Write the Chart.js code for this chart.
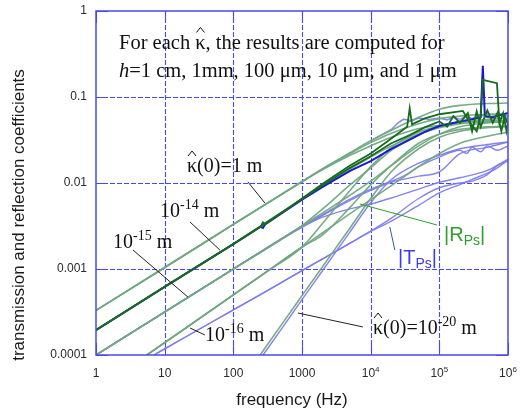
<!DOCTYPE html>
<html><head><meta charset="utf-8">
<script src="https://cdn.jsdelivr.net/npm/chart.js@4.4.0/dist/chart.umd.min.js"></script>
<style>html,body{margin:0;padding:0;background:#fff;}#wrap{width:523px;height:413px;}</style>
</head><body><div id="wrap"><canvas id="c" width="523" height="413"></canvas></div>
<script>
// ---------- tick values ----------
const X_TICKS = [1, 10, 100, 1000, 1e4, 1e5, 1e6];
const Y_TICKS = [1e-4, 1e-3, 1e-2, 0.1, 1];
const Y_TICK_LABELS = ['0.0001', '0.001', '0.01', '0.1', '1'];

// ---------- frequencies (Hz) ----------
const FREQ_A   = [1, 10, 100, 1000, 2000, 5000, 1e4, 2e4, 5e4, 1e5, 2e5, 5e5, 1e6];
const FREQ_DG1 = [1, 10, 100, 250, 270, 290, 1000, 2000, 5000, 1e4, 2e4, 3.4e4, 3.7e4, 4.0e4, 6e4, 1e5, 2.2e5, 2.8e5, 3.5e5, 4.0e5, 4.3e5, 6.9e5, 7.5e5, 8.5e5, 9.5e5, 1e6];
const FREQ_DG2 = [1, 10, 100, 1000, 2000, 5000, 1e4, 2e4, 3.7e4, 6e4, 1e5, 1.3e5, 1.6e5, 2e5, 2.6e5, 3e5, 3.5e5, 4e5, 5e5, 6e5, 7e5, 8e5, 9e5, 1e6];
const FREQ_TB  = [1, 10, 100, 250, 270, 290, 1000, 2000, 5000, 1e4, 2e4, 3.7e4, 6e4, 1e5, 2e5, 3e5, 4e5, 4.3e5, 4.6e5, 6e5, 8e5, 1e6];
const FREQ_T1M = [1e4, 2e4, 2.5e4, 3e4, 4e4, 5e4, 7e4, 1e5, 1.3e5, 1.6e5, 2e5, 2.5e5, 3e5, 4e5, 5e5, 7e5, 1e6];
const FREQ_T15B = [1, 10, 100, 1000, 2000, 5000, 1e4, 2e4, 3e4, 5e4, 1e5, 2e5, 2.5e5, 3e5, 4e5, 5e5, 7e5, 1e6];
const FREQ_16R = [5.5, 10, 30, 100, 300, 1000, 2000, 5000, 1e4, 2e4, 5e4, 1e5, 2e5, 5e5, 1e6];
const FREQ_16T = [7, 10, 30, 100, 300, 1000, 2000, 5000, 1e4, 2e4, 5e4, 1e5, 2e5, 3e5, 5e5, 7e5, 1e6];
const FREQ_20R = [200, 500, 1000, 2000, 5000, 1e4, 2e4, 5e4, 1e5, 2e5, 5e5, 1e6];
const FREQ_20T = [220, 500, 1000, 2000, 5000, 1e4, 2e4, 5e4, 1e5, 2e5, 5e5, 1e6];

// ---------- |R_Ps| (reflection) ----------
const R_1M_A = [3.3e-4, 1.04e-3, 3.3e-3, 1.04e-2, 1.47e-2, 2.25e-2, 3.1e-2, 4.1e-2, 5.8e-2, 7.2e-2, 8.0e-2, 8.4e-2, 8.5e-2];
const R_1M_B = [3.3e-4, 1.04e-3, 3.3e-3, 1.04e-2, 1.46e-2, 2.2e-2, 2.95e-2, 3.8e-2, 4.9e-2, 5.6e-2, 6.0e-2, 6.3e-2, 6.4e-2];
const R_1M_C = [3.3e-4, 1.04e-3, 3.3e-3, 1.03e-2, 1.43e-2, 2.1e-2, 2.7e-2, 3.4e-2, 4.3e-2, 4.7e-2, 5.0e-2, 5.1e-2, 5.1e-2];
const R_14_A = [1.95e-4, 6.2e-4, 1.95e-3, 3.1e-3, 3.5e-3, 3.3e-3, 6.6e-3, 9.8e-3, 1.6e-2, 2.2e-2, 3.3e-2, 4.5e-2, 7.4e-2, 4.8e-2, 5.6e-2, 6.3e-2, 6.9e-2, 5.0e-2, 4.0e-2, 6.0e-2, 1.58e-1, 1.45e-1, 5.0e-2, 6.5e-2, 4.0e-2, 5.0e-2];
const R_14_B = [1.95e-4, 6.2e-4, 1.95e-3, 6.5e-3, 9.4e-3, 1.5e-2, 2.05e-2, 2.9e-2, 3.6e-2, 4.4e-2, 5.2e-2, 4.5e-2, 6.0e-2, 5.0e-2, 6.5e-2, 4.0e-2, 6.8e-2, 4.5e-2, 7.0e-2, 5.0e-2, 6.5e-2, 4.0e-2, 6.0e-2, 4.8e-2];
const R_14_C = [1.95e-4, 6.2e-4, 1.95e-3, 6.4e-3, 9.2e-3, 1.45e-2, 2.0e-2, 2.7e-2, 3.7e-2, 4.4e-2, 4.9e-2, 5.3e-2, 5.4e-2];
const R_15_A = [1e-4, 3.16e-4, 1e-3, 3.16e-3, 4.5e-3, 7.2e-3, 1.05e-2, 1.6e-2, 2.7e-2, 3.7e-2, 4.5e-2, 5.0e-2, 5.2e-2];
const R_15_B = [1e-4, 3.16e-4, 1e-3, 3.2e-3, 5.0e-3, 9.5e-3, 1.5e-2, 2.4e-2, 3.6e-2, 4.5e-2, 5.0e-2, 5.5e-2, 5.7e-2];
const R_16_A = [1e-4, 1.39e-4, 2.56e-4, 5.0e-4, 9.2e-4, 1.79e-3, 2.64e-3, 4.4e-3, 6.4e-3, 9.3e-3, 1.55e-2, 2.2e-2, 2.9e-2, 3.5e-2, 3.9e-2];
const R_16_B = [1e-4, 1.39e-4, 2.56e-4, 5.0e-4, 9.2e-4, 1.8e-3, 3.4e-3, 8.2e-3, 1.55e-2, 2.6e-2, 3.9e-2, 4.6e-2, 5.0e-2, 5.2e-2, 5.3e-2];
const R_16_C = [1e-4, 1.39e-4, 2.56e-4, 5.0e-4, 9.2e-4, 1.8e-3, 2.5e-3, 5.2e-3, 9.5e-3, 1.6e-2, 2.9e-2, 3.7e-2, 4.2e-2, 4.5e-2, 4.6e-2];
const R_20   = [7.9e-5, 2.24e-4, 4.9e-4, 1.07e-3, 3.0e-3, 6.6e-3, 1.35e-2, 2.5e-2, 3.4e-2, 4.0e-2, 4.4e-2, 4.5e-2];

// ---------- |T_Ps| (transmission) ----------
const T_1M   = [3.1e-2, 4.2e-2, 5.0e-2, 5.5e-2, 5.3e-2, 5.7e-2, 5.5e-2, 5.7e-2, 5.4e-2, 5.8e-2, 5.5e-2, 6.0e-2, 5.6e-2, 6.2e-2, 5.8e-2, 6.2e-2, 6.0e-2];
const T_14   = [1.95e-4, 6.2e-4, 1.95e-3, 3.1e-3, 3.0e-3, 3.3e-3, 6.4e-3, 9.0e-3, 1.38e-2, 1.8e-2, 2.5e-2, 3.2e-2, 3.9e-2, 4.6e-2, 5.2e-2, 5.5e-2, 5.8e-2, 2.3e-1, 6.0e-2, 5.8e-2, 6.2e-2, 6.5e-2];
const T_15_A = [1e-4, 3.16e-4, 1e-3, 3.05e-3, 4.0e-3, 5.0e-3, 5.7e-3, 6.7e-3, 8.5e-3, 1.02e-2, 1.15e-2, 1.4e-2, 1.9e-2];
const T_15_B = [1e-4, 3.16e-4, 1e-3, 3.15e-3, 4.3e-3, 6.5e-3, 8.5e-3, 1.05e-2, 1.2e-2, 1.55e-2, 2.0e-2, 2.4e-2, 2.2e-2, 2.6e-2, 2.3e-2, 2.7e-2, 2.4e-2, 2.7e-2];
const T_15_C = [1e-4, 3.16e-4, 1e-3, 3.1e-3, 4.2e-3, 6.3e-3, 8.2e-3, 1.02e-2, 1.2e-2, 1.35e-2, 2.2e-2, 2.6e-2, 3.0e-2];
const T_16_A = [1e-4, 1.18e-4, 1.94e-4, 3.35e-4, 5.5e-4, 9.6e-4, 1.31e-3, 1.99e-3, 2.73e-3, 3.6e-3, 5.5e-3, 7.7e-3, 9.6e-3, 1.1e-2, 1.3e-2, 1.5e-2, 1.86e-2];
const T_16_B = [1e-4, 1.18e-4, 1.94e-4, 3.35e-4, 5.5e-4, 9.6e-4, 1.31e-3, 2.0e-3, 2.75e-3, 3.9e-3, 6.6e-3, 8.8e-3, 1.0e-2, 1.05e-2, 1.25e-2, 1.6e-2, 1.8e-2];
const T_20   = [7.9e-5, 2.0e-4, 4.4e-4, 9.6e-4, 2.7e-3, 5.9e-3, 1.1e-2, 1.7e-2, 2.1e-2, 2.5e-2, 2.8e-2, 3.0e-2];

// ---------- styles ----------
const STY = {
  lg: {c: 'rgba(112,168,128,0.95)', w: 1.6, o: 3},
  lb: {c: 'rgba(125,125,235,0.95)', w: 1.4, o: 4},
  dg: {c: '#176b1c', w: 1.8, o: 0},
  db: {c: '#1a1ad2', w: 2.0, o: 1}
};
const SERIES = [
  [FREQ_A, R_1M_A, 'lg', 0.3], [FREQ_A, R_1M_B, 'lg', 0.3], [FREQ_A, R_1M_C, 'lg', 0.3],
  [FREQ_A, R_14_C, 'lg', 0.3],
  [FREQ_A, R_15_A, 'lg', 0.3], [FREQ_A, R_15_B, 'lg', 0.3],
  [FREQ_16R, R_16_A, 'lg', 0.3], [FREQ_16R, R_16_B, 'lg', 0.3], [FREQ_16R, R_16_C, 'lg', 0.3],
  [FREQ_20R, R_20, 'lg', 0.3],
  [FREQ_T1M, T_1M, 'lb', 0], [FREQ_A, T_15_A, 'lb', 0.3], [FREQ_T15B, T_15_B, 'lb', 0.2],
  [FREQ_A, T_15_C, 'lb', 0.3], [FREQ_16T, T_16_A, 'lb', 0.3], [FREQ_16T, T_16_B, 'lb', 0.3],
  [FREQ_20T, T_20, 'lb', 0.3],
  [FREQ_DG1, R_14_A, 'dg', 0], [FREQ_DG2, R_14_B, 'dg', 0],
  [FREQ_TB, T_14, 'db', 0]
];

const datasets = SERIES.map(([fx, vy, k, t]) => ({
  data: fx.map((f, i) => ({x: f, y: vy[i]})),
  borderColor: STY[k].c, borderWidth: STY[k].w, order: STY[k].o,
  pointRadius: 0, fill: false, tension: t,
  cubicInterpolationMode: t > 0 ? 'monotone' : 'default'
}));

// ---------- helpers ----------
const SANS = "'Liberation Sans', Arial, sans-serif";
const SERIF = "'Liberation Serif', 'Times New Roman', serif";
function hat(ctx, cx, top, w) {
  ctx.save(); ctx.lineWidth = 1; ctx.strokeStyle = ctx.fillStyle;
  ctx.beginPath(); ctx.moveTo(cx - w, top + 5); ctx.lineTo(cx, top); ctx.lineTo(cx + w, top + 5); ctx.stroke();
  ctx.restore();
}
function rich(ctx, x, y, parts, base, fam) {
  let cx = x;
  for (const p of parts) {
    const size = p.s ? Math.round(base * 0.68) : base;
    const dy = p.s === 'sup' ? -base * 0.4 : (p.s === 'sub' ? base * 0.22 : 0);
    ctx.font = (p.i ? 'italic ' : '') + size + 'px ' + fam;
    ctx.fillText(p.t, cx, y + dy);
    const w = ctx.measureText(p.t).width;
    if (p.hat) hat(ctx, cx + w / 2, y - base * 1.05, 4);
    cx += w;
  }
  return cx;
}

const deco = {
  id: 'deco',
  beforeDatasetsDraw(chart) {
    const {ctx, chartArea: a, scales: {x, y}} = chart;
    ctx.save();
    ctx.strokeStyle = '#4646ff'; ctx.lineWidth = 1.1;
    ctx.setLineDash([5, 2]);
    X_TICKS.forEach(v => {
      const px = Math.round(x.getPixelForValue(v)) + 0.5;
      if (px > a.left + 2 && px < a.right - 2) { ctx.beginPath(); ctx.moveTo(px, a.top); ctx.lineTo(px, a.bottom); ctx.stroke(); }
    });
    Y_TICKS.forEach(v => {
      const py = Math.round(y.getPixelForValue(v)) + 0.5;
      if (py > a.top + 2 && py < a.bottom - 2) { ctx.beginPath(); ctx.moveTo(a.left, py); ctx.lineTo(a.right, py); ctx.stroke(); }
    });
    ctx.setLineDash([]);
    ctx.strokeStyle = '#4a4af0';
    X_TICKS.forEach(v => {
      const px = Math.round(x.getPixelForValue(v)) + 0.5;
      ctx.beginPath(); ctx.moveTo(px, a.top); ctx.lineTo(px, a.top + 12); ctx.moveTo(px, a.bottom); ctx.lineTo(px, a.bottom - 12); ctx.stroke();
    });
    Y_TICKS.forEach(v => {
      const py = Math.round(y.getPixelForValue(v)) + 0.5;
      ctx.beginPath(); ctx.moveTo(a.left, py); ctx.lineTo(a.left + 12, py); ctx.moveTo(a.right, py); ctx.lineTo(a.right - 12, py); ctx.stroke();
    });
    ctx.restore();
  },
  afterDatasetsDraw(chart) {
    const {ctx, chartArea: a, scales: {x, y}} = chart;
    ctx.save();
    ctx.strokeStyle = '#4a4ae6'; ctx.lineWidth = 1.5;
    ctx.strokeRect(a.left, a.top, a.right - a.left, a.bottom - a.top);

    // tick labels
    ctx.fillStyle = '#2a2a2a';
    ctx.font = '12px ' + SANS;
    ctx.textAlign = 'right'; ctx.textBaseline = 'middle';
    Y_TICKS.forEach((v, i) => ctx.fillText(Y_TICK_LABELS[i], a.left - 9, y.getPixelForValue(v)));
    ctx.textBaseline = 'alphabetic'; ctx.textAlign = 'left';
    X_TICKS.forEach(v => {
      const px = x.getPixelForValue(v);
      const e = Math.round(Math.log10(v));
      const parts = e <= 3 ? [{t: String(v)}] : [{t: '10'}, {t: String(e), s: 'sup'}];
      let w = 0;
      parts.forEach(p => { ctx.font = (p.s ? '8px ' : '12px ') + SANS; w += ctx.measureText(p.t).width; });
      rich(ctx, px - w / 2, a.bottom + 22, parts, 12, SANS);
    });

    // axis titles
    ctx.fillStyle = '#1a1a1a';
    ctx.font = '17px ' + SANS;
    ctx.textAlign = 'center'; ctx.textBaseline = 'middle';
    ctx.fillText('frequency (Hz)', (a.left + a.right) / 2 - 10, 400);
    ctx.save(); ctx.translate(19, 215); ctx.rotate(-Math.PI / 2);
    ctx.fillText('transmission and reflection coefficients', 0, 0); ctx.restore();

    // leader lines (endpoints in data coordinates)
    const P = (f, v) => [x.getPixelForValue(f), y.getPixelForValue(v)];
    const seg = (p, q, col) => { ctx.strokeStyle = col; ctx.lineWidth = 1; ctx.beginPath(); ctx.moveTo(p[0], p[1]); ctx.lineTo(q[0], q[1]); ctx.stroke(); };
    seg(P(163, 0.0103), P(288, 5.85e-3), '#222');
    seg(P(23.4, 3.52e-3), P(63.8, 1.66e-3), '#222');
    seg(P(3.46, 1.66e-3), P(21.8, 4.72e-4), '#222');
    seg(P(23.4, 2.06e-4), P(38.6, 1.71e-4), '#222');
    seg(P(871, 3.08e-4), P(7.7e3, 2.12e-4), '#222');
    seg(P(6.96e3, 5.7e-3), P(9.2e4, 3.25e-3), '#2e9e2e');
    seg(P(1.9e4, 3.08e-3), P(2.25e4, 1.66e-3), '#2a5ea8');

    // text annotations
    ctx.textAlign = 'left'; ctx.textBaseline = 'alphabetic';
    ctx.fillStyle = '#111';
    rich(ctx, 119, 49, [{t: 'For each '}, {t: 'κ', hat: true}, {t: ', the results are computed for'}], 20.5, SERIF);
    rich(ctx, 119, 77, [{t: 'h', i: true}, {t: '=1 cm, 1mm, 100 μm, 10 μm, and 1 μm'}], 20.5, SERIF);
    rich(ctx, 187, 172, [{t: 'κ', hat: true}, {t: '(0)=1 m'}], 20, SERIF);
    rich(ctx, 160, 217, [{t: '10'}, {t: '-14', s: 'sup'}, {t: ' m'}], 20, SERIF);
    rich(ctx, 113, 248, [{t: '10'}, {t: '-15', s: 'sup'}, {t: ' m'}], 20, SERIF);
    rich(ctx, 205, 341, [{t: '10'}, {t: '-16', s: 'sup'}, {t: ' m'}], 20, SERIF);
    rich(ctx, 373, 334, [{t: 'κ', hat: true}, {t: '(0)=10'}, {t: '-20', s: 'sup'}, {t: ' m'}], 20, SERIF);
    ctx.fillStyle = '#2e9e2e';
    rich(ctx, 444, 241, [{t: '|R'}, {t: 'Ps', s: 'sub'}, {t: '|'}], 20, SANS);
    ctx.fillStyle = '#3c3ce6';
    rich(ctx, 398, 264, [{t: '|T'}, {t: 'Ps', s: 'sub'}, {t: '|'}], 20, SANS);
    ctx.restore();
  }
};

new Chart(document.getElementById('c'), {
  type: 'line',
  data: {datasets},
  options: {
    responsive: false, animation: false, devicePixelRatio: 1,
    layout: {padding: {top: 11, right: 15, left: 0, bottom: 0}},
    plugins: {legend: {display: false}, tooltip: {enabled: false}},
    scales: {
      x: {type: 'logarithmic', min: 1, max: 1e6,
          afterBuildTicks: s => { s.ticks = X_TICKS.map(v => ({value: v})); },
          afterFit: s => { s.height = 58; },
          ticks: {display: false}, grid: {display: false}, border: {display: false}},
      y: {type: 'logarithmic', min: 1e-4, max: 1,
          afterBuildTicks: s => { s.ticks = Y_TICKS.map(v => ({value: v})); },
          afterFit: s => { s.width = 96; },
          ticks: {display: false}, grid: {display: false}, border: {display: false}}
    }
  },
  plugins: [deco]
});
</script></body></html>
